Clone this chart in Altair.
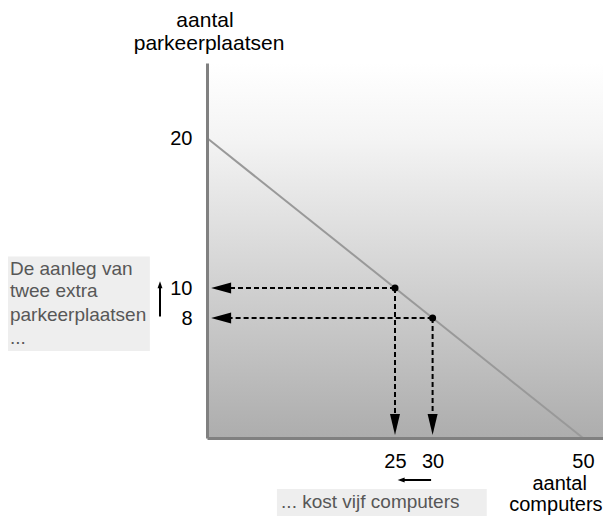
import altair as alt
import pandas as pd

FONT = "Liberation Sans"

# ---- data ----
ppf_x = [0, 50]          # aantal computers
ppf_y = [20, 0]          # aantal parkeerplaatsen

pt_x = [25, 30]
pt_y = [10, 8]

x_ticks = [25, 30, 50]
y_ticks = [20, 10, 8]

X_MAX = 52.66
Y_MAX = 25

y_title = ["aantal", "parkeerplaatsen"]
x_title = ["aantal", "computers"]
box1_lines = ["De aanleg van", "twee extra", "parkeerplaatsen", "..."]
box2_text = ["... kost vijf computers"]

# ---- scales / axes ----
xs = alt.Scale(domain=[0, X_MAX], nice=False, zero=False)
ys = alt.Scale(domain=[0, Y_MAX], nice=False, zero=False)
xaxis = alt.Axis(values=x_ticks, title=None, ticks=False, tickSize=0, grid=False,
                 labelPadding=13, labelFontSize=20, labelFont=FONT, labelColor="black",
                 domainColor="#808080", domainWidth=3, zindex=1, labelFlush=False)
yaxis = alt.Axis(values=y_ticks, title=None, ticks=False, tickSize=0, grid=False,
                 labelPadding=15, labelFontSize=20, labelFont=FONT, labelColor="black",
                 domainColor="#808080", domainWidth=3, zindex=1, labelFlush=False)


def X(f):
    return alt.X(f, type="quantitative", scale=xs, axis=xaxis)


def Y(f):
    return alt.Y(f, type="quantitative", scale=ys, axis=yaxis)


# background gradient
bg = pd.DataFrame({"x0": [0], "x1": [X_MAX], "y0": [0], "y1": [Y_MAX]})
grad = alt.LinearGradient(
    gradient="linear",
    stops=[alt.GradientStop(color="#ffffff", offset=0),
           alt.GradientStop(color="#f4f4f4", offset=0.2),
           alt.GradientStop(color="#adadad", offset=1)],
    x1=0, x2=0, y1=0, y2=1)
bg_layer = alt.Chart(bg).mark_rect(color=grad).encode(
    x=X("x0"), x2="x1", y=Y("y0"), y2="y1")

# frontier line
ppf = pd.DataFrame({"x": ppf_x, "y": ppf_y})
ppf_layer = alt.Chart(ppf).mark_line(color="#999999", strokeWidth=2).encode(
    x=X("x"), y=Y("y"))

# dashed guides
hd = pd.DataFrame({"y": pt_y, "xa": pt_x, "xb": [2.6, 2.6]})
h_layer = alt.Chart(hd).mark_rule(color="black", strokeWidth=2, strokeDash=[5, 3]).encode(
    x=X("xa"), x2="xb", y=Y("y"))
vd = pd.DataFrame({"x": pt_x, "ya": pt_y, "yb": [1.3, 1.3]})
v_layer = alt.Chart(vd).mark_rule(color="black", strokeWidth=2, strokeDash=[5, 3]).encode(
    x=X("x"), y=Y("ya"), y2="yb")

# arrow heads of the guides
lh = pd.DataFrame({"x": [0.55, 0.55], "y": pt_y})
lh_layer = alt.Chart(lh).mark_point(shape="M0,0L2,-0.55L2,0.55Z", filled=True, size=400,
                                    color="black", opacity=1, strokeWidth=0).encode(
    x=X("x"), y=Y("y"))
dh = pd.DataFrame({"x": pt_x, "y": [0.2, 0.2]})
dh_layer = alt.Chart(dh).mark_point(shape="M0,0L-0.5,-2.1L0.5,-2.1Z", filled=True, size=400,
                                    color="black", opacity=1, strokeWidth=0).encode(
    x=X("x"), y=Y("y"))

# dots
pts = pd.DataFrame({"x": pt_x, "y": pt_y})
pt_layer = alt.Chart(pts).mark_circle(color="black", size=50, opacity=1).encode(
    x=X("x"), y=Y("y"))

# annotation boxes
boxes = pd.DataFrame({"x0": [-26.6, 9.3], "x1": [-7.6, 37.2],
                      "y0": [5.8, -3.4], "y1": [12.1, -5.2]})
box_layer = alt.Chart(boxes).mark_rect(color="#eeeeee").encode(
    x=X("x0"), x2="x1", y=Y("y0"), y2="y1")

ann = pd.DataFrame({"x": [-26.2] * 4 + [9.85],
                    "y": [11.27, 9.8, 8.2, 6.67, -4.27],
                    "t": box1_lines + box2_text})
ann_layer = alt.Chart(ann).mark_text(align="left", baseline="middle", font=FONT,
                                     fontSize=19, color="#575757").encode(
    x=X("x"), y=Y("y"), text="t:N")

# axis titles
yt = pd.DataFrame({"x": [-0.27, 0.27], "y": [27.4, 25.87], "t": y_title})
yt_layer = alt.Chart(yt).mark_text(align="center", baseline="alphabetic", font=FONT,
                                   fontSize=21, color="black").encode(
    x=X("x"), y=Y("y"), text="t:N")
xt = pd.DataFrame({"x": [46.9, 46.4], "y": [-3.47, -4.87], "t": x_title})
xt_layer = alt.Chart(xt).mark_text(align="center", baseline="alphabetic", font=FONT,
                                   fontSize=20, color="black").encode(
    x=X("x"), y=Y("y"), text="t:N")

# solid arrows (up next to 10/8, left under 25/30)
ur = pd.DataFrame({"x": [-6.25], "ya": [8.1], "yb": [10.0]})
ur_layer = alt.Chart(ur).mark_rule(color="black", strokeWidth=2).encode(
    x=X("x"), y=Y("ya"), y2="yb")
uh = pd.DataFrame({"x": [-6.25], "y": [10.45]})
uh_layer = alt.Chart(uh).mark_point(shape="M0,0L-0.7,2L0.7,2Z", filled=True, size=49,
                                    color="black", opacity=1, strokeWidth=0).encode(
    x=X("x"), y=Y("y"))
lr = pd.DataFrame({"y": [-2.8], "xa": [29.8], "xb": [26.2]})
lr_layer = alt.Chart(lr).mark_rule(color="black", strokeWidth=2).encode(
    x=X("xa"), x2="xb", y=Y("y"))
lah = pd.DataFrame({"x": [25.35], "y": [-2.8]})
lah_layer = alt.Chart(lah).mark_point(shape="M0,0L2,-0.7L2,0.7Z", filled=True, size=49,
                                      color="black", opacity=1, strokeWidth=0).encode(
    x=X("x"), y=Y("y"))

chart = alt.layer(
    bg_layer, ppf_layer, h_layer, v_layer, lh_layer, dh_layer, pt_layer,
    box_layer, ann_layer, yt_layer, xt_layer, ur_layer, uh_layer, lr_layer, lah_layer
).properties(
    width=396, height=375,
    autosize=alt.AutoSizeParams(type="none"),
    padding={"left": 199, "top": 55, "right": 0, "bottom": 82},
).configure_view(stroke=None)

chart.save("out.html", embed_options={"renderer": "svg", "actions": False})
